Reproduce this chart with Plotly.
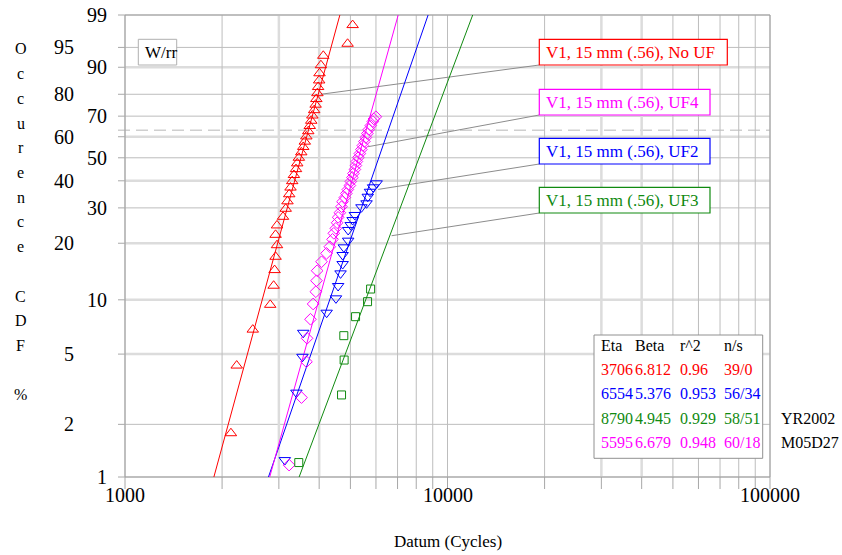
import math
import numpy as np
import plotly.graph_objects as go

# ---------------- data ----------------
series_names = ["V1, 15 mm (.56), No UF", "V1, 15 mm (.56), UF4",
                "V1, 15 mm (.56), UF2", "V1, 15 mm (.56), UF3"]
series_colors = ["#ff0000", "#ff00ff", "#0000ff", "#108a10"]

# Weibull fit table (Eta, Beta, r^2, n/s) in table order
table_names = ["No UF", "UF2", "UF3", "UF4"]
table_colors = ["#ff0000", "#0000ff", "#108a10", "#ff00ff"]
eta_vals = [3706, 6554, 8790, 5595]
beta_vals = [6.812, 5.376, 4.945, 6.679]
r2_vals = ["0.96", "0.953", "0.929", "0.948"]
ns_vals = ["39/0", "56/34", "58/51", "60/18"]

# No UF (red triangles)
red_cycles = [2130, 2220, 2490, 2820, 2890, 2910, 2930, 2960, 2930, 2960,
              3090, 3150, 3190, 3230, 3260, 3300, 3340, 3390, 3420, 3460,
              3520, 3570, 3610, 3650, 3700, 3740, 3780, 3810, 3860, 3900,
              3920, 3950, 3970, 4000, 4010, 4050, 4120, 4900, 5080]
red_F = [1.78, 4.31, 6.85, 9.39, 11.93, 14.47, 17.01, 19.54, 22.08, 24.62,
         27.16, 29.70, 32.23, 34.77, 37.31, 39.85, 42.39, 44.92, 47.46, 50.00,
         52.54, 55.08, 57.61, 60.15, 62.69, 65.23, 67.77, 70.30, 72.84, 75.38,
         77.92, 80.46, 82.99, 85.53, 88.07, 90.61, 93.15, 95.69, 98.22]

# UF2 (blue down triangles)
blue_cycles = [3130, 3400, 3550, 3570, 4220, 4510, 4580, 4660, 4730, 4730,
               4770, 4920, 4920, 5010, 5080, 5160, 5410, 5610, 5660, 5750,
               5880, 6030]
blue_F = [1.25, 3.03, 4.83, 6.58, 8.50, 10.19, 11.89, 13.90, 15.58, 17.38,
          19.05, 20.62, 23.36, 24.73, 26.18, 27.72, 30.20, 31.55, 33.87, 35.71,
          37.41, 38.99]

# UF4 (magenta diamonds)
mag_cycles = [3227, 3526, 3653, 3669, 3760, 3831, 3906, 3925, 3942, 4068,
              4215, 4316, 4400, 4441, 4505, 4547, 4580, 4636, 4693, 4726,
              4805, 4857, 4909, 4980, 5015, 5070, 5106, 5161, 5198, 5235,
              5292, 5349, 5406, 5464, 5523, 5583, 5643, 5703, 5785, 5868,
              5910, 5997]
mag_F = [1.17, 2.84, 4.53, 6.13, 7.82, 9.49, 11.07, 12.69, 14.36, 16.02,
         17.73, 19.19, 20.94, 22.48, 23.81, 25.39, 27.00, 28.43, 30.40, 32.10,
         33.59, 35.05, 36.56, 38.11, 39.71, 41.35, 43.03, 44.75, 46.50, 48.30,
         50.13, 51.97, 53.86, 55.76, 57.69, 59.62, 61.57, 63.52, 65.47, 67.42,
         68.63, 69.73]

# UF3 (green squares)
green_cycles = [3458, 4693, 4781, 4770, 5187, 5651, 5775]
green_F = [1.21, 2.94, 4.63, 6.34, 8.08, 9.77, 11.45]

# leader line anchors (cycles, F%) for labels No UF, UF4, UF2, UF3
leader_cycles = [4047, 5675, 6097, 6709]
leader_F = [80.0, 55.2, 36.6, 21.85]

# axis ticks
y_tick_F = [99, 95, 90, 80, 70, 60, 50, 40, 30, 20, 10, 5, 2, 1]
y_tick_left = [False, True, False, True, False, True, False, True, False, True, False, True, True, False]
y_tick_light = [False, False, True, False, False, True, False, True, False, True, True, True, False, False]
x_major = [1000, 10000, 100000]
x_grid = [m * d for d in (1000, 10000) for m in range(1, 10)] + [100000]
x_light = [3000, 4000, 30000, 40000]

# ---------------- layout geometry ----------------
W, H = 842, 555
L, R, T, B = 125, 72, 15, 78
PW, PH = W - L - R, H - T - B
SERIF = "Liberation Serif"


def wb(F_pct):
    F = np.asarray(F_pct, dtype=float) / 100.0
    return np.log(-np.log(1.0 - F))


def lg(t):
    return np.log10(np.asarray(t, dtype=float))


X0, X1 = 3.0, 5.0
Y0, Y1 = float(wb(1)), float(wb(99))


def pxx(p):
    return (p - L) / PW


def pxy(p):
    return (H - B - p) / PH


def dpx(v):
    return (math.log10(v) - X0) / (X1 - X0)


def dpy(F):
    return (float(wb(F)) - Y0) / (Y1 - Y0)


fig = go.Figure()

# fit lines (from Eta/Beta)
fit_map = {"#ff0000": 0, "#0000ff": 1, "#108a10": 2, "#ff00ff": 3}
for col, idx in fit_map.items():
    e, b = eta_vals[idx], beta_vals[idx]
    Fs = np.array([1.0, 99.0])
    ts = e * (-np.log(1 - Fs / 100.0)) ** (1.0 / b)
    fig.add_trace(go.Scatter(x=lg(ts), y=wb(Fs), mode="lines",
                             line=dict(color=col, width=1), hoverinfo="skip",
                             showlegend=False))

pts = [
    (red_cycles, red_F, "#ff0000", "triangle-up-open", 10),
    (blue_cycles, blue_F, "#0000ff", "triangle-down-open", 10),
    (mag_cycles, mag_F, "#ff00ff", "diamond-open", 9),
    (green_cycles, green_F, "#108a10", "square-open", 8),
]
for cyc, F, col, sym, sz in pts:
    fig.add_trace(go.Scatter(x=lg(cyc), y=wb(F), mode="markers",
                             marker=dict(symbol=sym, size=sz, color=col,
                                         line=dict(color=col, width=1)),
                             showlegend=False))

shapes = []
ann = []

# horizontal gridlines
for F, light in zip(y_tick_F, y_tick_light):
    y = dpy(F)
    if light:
        shapes.append(dict(type="line", xref="paper", yref="paper", x0=0, x1=1, y0=y, y1=y,
                           line=dict(color="#dcdcdc", width=2.5), layer="below"))
    shapes.append(dict(type="line", xref="paper", yref="paper", x0=pxx(118), x1=0, y0=y, y1=y,
                       line=dict(color="#a8a8a8", width=1), layer="below"))
    if not light:
        shapes.append(dict(type="line", xref="paper", yref="paper", x0=0, x1=1, y0=y, y1=y,
                           line=dict(color="#bdbdbd", width=1), layer="below"))
# 63.2% dashed
shapes.append(dict(type="line", xref="paper", yref="paper", x0=pxx(118), x1=1,
                   y0=dpy(63.212), y1=dpy(63.212),
                   line=dict(color="#cfcfcf", width=1.5, dash="12px,6px"), layer="below"))

# vertical gridlines + ticks
for v in x_grid:
    x = dpx(v)
    if v in x_light:
        shapes.append(dict(type="line", xref="paper", yref="paper", x0=x, x1=x, y0=0, y1=1,
                           line=dict(color="#dcdcdc", width=2.5), layer="below"))
    else:
        shapes.append(dict(type="line", xref="paper", yref="paper", x0=x, x1=x, y0=0, y1=1,
                           line=dict(color="#bdbdbd", width=1), layer="below"))
    shapes.append(dict(type="line", xref="paper", yref="paper", x0=x, x1=x, y0=pxy(489), y1=0,
                       line=dict(color="#a8a8a8", width=1), layer="below"))

# frame
shapes.append(dict(type="rect", xref="paper", yref="paper", x0=0, x1=1, y0=0, y1=1,
                   line=dict(color="#a0a0a0", width=1), layer="below"))

# leader lines and label boxes
box_left = 539.3
box_tops = [39.3, 89.3, 138.3, 187.3]
box_widths = [188, 170.7, 170.7, 170.7]
box_h = 25.7
for i, name in enumerate(series_names):
    col = series_colors[i]
    top = box_tops[i]
    shapes.append(dict(type="line", xref="paper", yref="paper",
                       x0=dpx(leader_cycles[i]), y0=dpy(leader_F[i]),
                       x1=pxx(box_left), y1=pxy(top + box_h),
                       line=dict(color="#8c8c8c", width=1), layer="below"))
    shapes.append(dict(type="rect", xref="paper", yref="paper",
                       x0=pxx(box_left), x1=pxx(box_left + box_widths[i]),
                       y0=pxy(top + box_h), y1=pxy(top),
                       line=dict(color=col, width=1.2), fillcolor="white", layer="above"))
    ann.append(dict(xref="paper", yref="paper", x=pxx(box_left + 5), y=pxy(top + box_h / 2),
                    text=name, showarrow=False, xanchor="left", yanchor="middle",
                    font=dict(family=SERIF, size=17, color=col)))

# W/rr box
shapes.append(dict(type="rect", xref="paper", yref="paper", x0=pxx(138.3), x1=pxx(176.7),
                   y0=pxy(65), y1=pxy(39.3), line=dict(color="#b0b0b0", width=1),
                   fillcolor="white", layer="above"))
ann.append(dict(xref="paper", yref="paper", x=pxx(143), y=pxy(52), text="W/rr",
                showarrow=False, xanchor="left", yanchor="middle",
                font=dict(family=SERIF, size=17, color="black")))

# results table
shapes.append(dict(type="rect", xref="paper", yref="paper", x0=pxx(594), x1=pxx(762.7),
                   y0=pxy(458.3), y1=pxy(335), line=dict(color="#909090", width=1),
                   fillcolor="white", layer="above"))
col_x = [599.3, 633.3, 678.3, 721.7]
row_y = [345, 369.3, 393.3, 418.3, 442.7]
for cx, h in zip(col_x, ["Eta", "Beta", "r^2", "n/s"]):
    ann.append(dict(xref="paper", yref="paper", x=pxx(cx), y=pxy(row_y[0]), text=h,
                    showarrow=False, xanchor="left", yanchor="middle",
                    font=dict(family=SERIF, size=16, color="black")))
for r in range(4):
    vals = [str(eta_vals[r]), f"{beta_vals[r]:.3f}", r2_vals[r], ns_vals[r]]
    for cx, v in zip(col_x, vals):
        ann.append(dict(xref="paper", yref="paper", x=pxx(cx), y=pxy(row_y[r + 1]), text=v,
                        showarrow=False, xanchor="left", yanchor="middle",
                        font=dict(family=SERIF, size=16, color=table_colors[r])))

for txt, yy in [("YR2002", 418.3), ("M05D27", 442.7)]:
    ann.append(dict(xref="paper", yref="paper", x=pxx(779), y=pxy(yy), text=txt,
                    showarrow=False, xanchor="left", yanchor="middle",
                    font=dict(family=SERIF, size=16, color="black")))

# y tick labels (staggered)
for F, left in zip(y_tick_F, y_tick_left):
    ann.append(dict(xref="paper", yref="paper", x=pxx(76 if left else 109), y=dpy(F),
                    text=str(F), showarrow=False, xanchor="right", yanchor="middle",
                    font=dict(family=SERIF, size=20, color="black")))

# x tick labels
for v in x_major:
    ann.append(dict(xref="paper", yref="paper", x=dpx(v), y=pxy(495), text=str(v),
                    showarrow=False, xanchor="center", yanchor="middle",
                    font=dict(family=SERIF, size=20, color="black")))

# axis titles
ann.append(dict(xref="paper", yref="paper", x=pxx(448), y=pxy(541), text="Datum (Cycles)",
                showarrow=False, xanchor="center", yanchor="middle",
                font=dict(family=SERIF, size=17, color="black")))
ytitle = "Occurence CDF %"
for k, ch in enumerate(ytitle):
    if ch == " ":
        continue
    ann.append(dict(xref="paper", yref="paper", x=pxx(20.5), y=pxy(49 + 24.7 * k), text=ch,
                    showarrow=False, xanchor="center", yanchor="middle",
                    font=dict(family=SERIF, size=16, color="black")))

fig.update_layout(
    width=W, height=H, autosize=False,
    margin=dict(l=L, r=R, t=T, b=B, pad=0),
    paper_bgcolor="white", plot_bgcolor="white",
    font=dict(family=SERIF),
    xaxis=dict(range=[X0, X1], showgrid=False, zeroline=False, showticklabels=False,
               ticks="", showline=False, fixedrange=True),
    yaxis=dict(range=[Y0, Y1], showgrid=False, zeroline=False, showticklabels=False,
               ticks="", showline=False, fixedrange=True),
    shapes=shapes, annotations=ann, showlegend=False,
)

fig.write_html("out.html")
